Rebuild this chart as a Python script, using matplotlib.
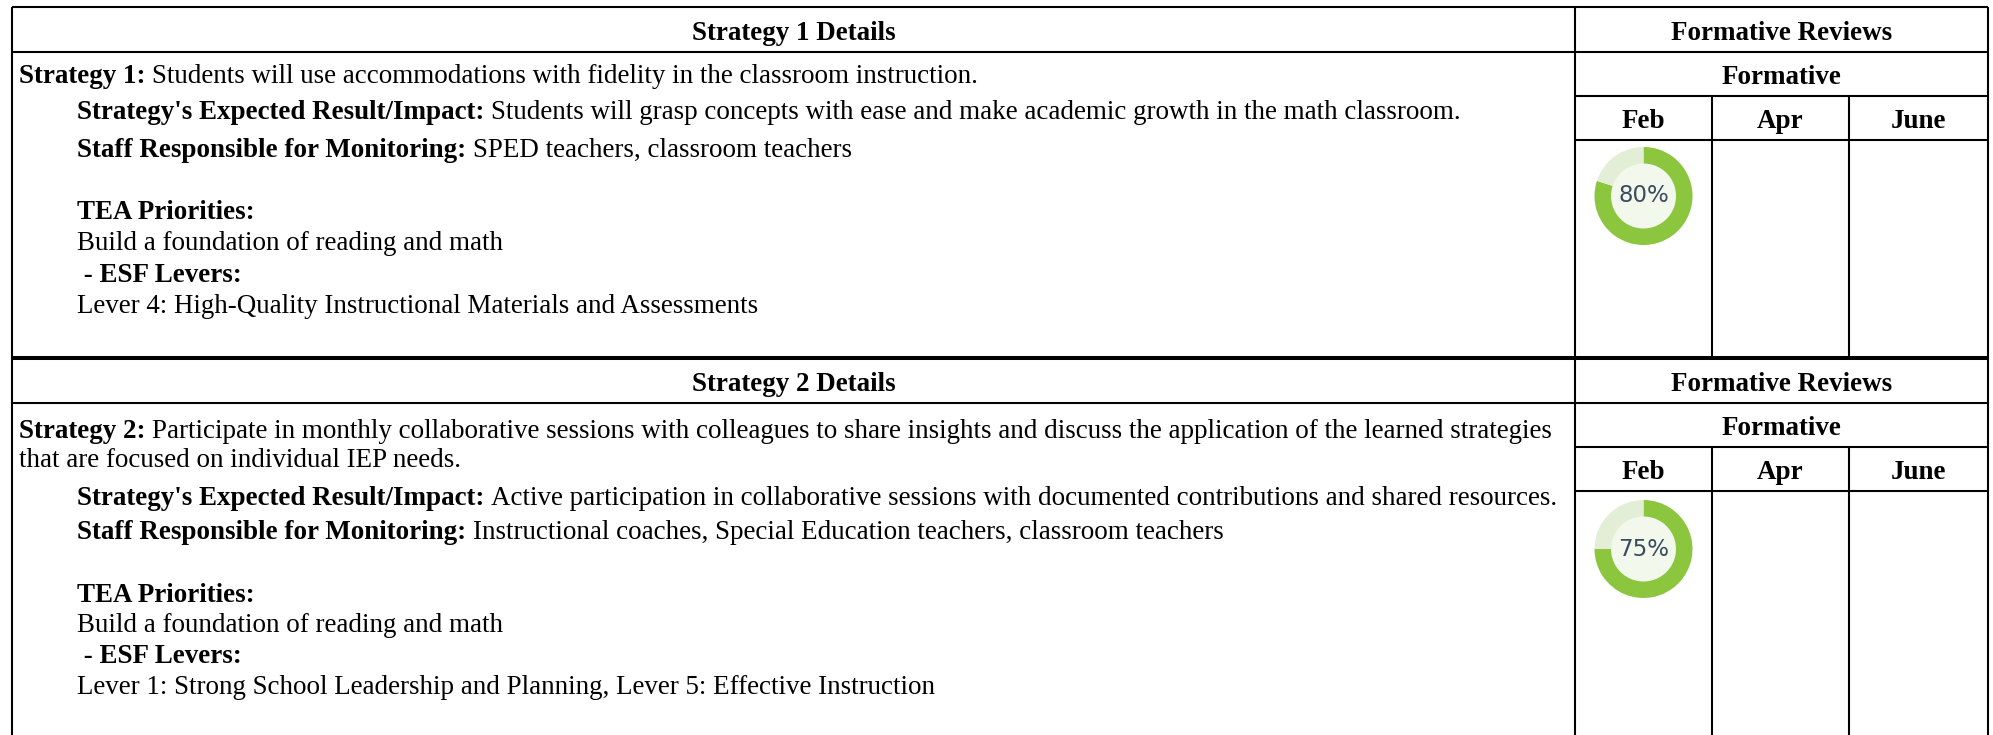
import matplotlib
matplotlib.use("Agg")
import matplotlib.pyplot as plt
from matplotlib.patches import Circle

W, H = 1993, 735

# table contents
months = ["Feb", "Apr", "June"]
feb_scores = [80, 75]
section_titles = ["Strategy 1 Details", "Strategy 2 Details"]
review_title = "Formative Reviews"
review_sub = "Formative"

strategy_lines = [
    [("Strategy 1:", "Students will use accommodations with fidelity in the classroom instruction.", 0),
     ("Strategy's Expected Result/Impact:", "Students will grasp concepts with ease and make academic growth in the math classroom.", 1),
     ("Staff Responsible for Monitoring:", "SPED teachers, classroom teachers", 1),
     ("TEA Priorities:", "", 1),
     ("", "Build a foundation of reading and math", 1),
     (" - ESF Levers:", "", 1),
     ("", "Lever 4: High-Quality Instructional Materials and Assessments", 1)],
    [("Strategy 2:", "Participate in monthly collaborative sessions with colleagues to share insights and discuss the application of the learned strategies", 0),
     ("", "that are focused on individual IEP needs.", 0),
     ("Strategy's Expected Result/Impact:", "Active participation in collaborative sessions with documented contributions and shared resources.", 1),
     ("Staff Responsible for Monitoring:", "Instructional coaches, Special Education teachers, classroom teachers", 1),
     ("TEA Priorities:", "", 1),
     ("", "Build a foundation of reading and math", 1),
     (" - ESF Levers:", "", 1),
     ("", "Lever 1: Strong School Leadership and Planning, Lever 5: Effective Instruction", 1)],
]

# layout (pixels, baselines)
line_y = [[83, 119, 157, 219, 250, 282, 313],
          [438, 467, 505, 539, 602, 632, 663, 694]]
sec_top = [7, 358]
left_x, split_x, right_x = 12, 1575, 1988
col_x = [1575, 1712, 1849, 1988]
indent = [19, 77]

green = "#8cc63f"
light = "#e2efd6"
inner = "#f2f8ec"

plt.rcParams['font.family'] = ['Liberation Serif', 'DejaVu Serif']
fs = 19.45

fig = plt.figure(figsize=(W / 100, H / 100), dpi=100)
ax = fig.add_axes([0, 0, 1, 1])
ax.set_xlim(0, W)
ax.set_ylim(H, 0)
ax.axis("off")

lw = 1.5
ax.vlines([left_x, split_x, right_x], sec_top[0], H, color="black", lw=lw)
ax.hlines(sec_top[0], left_x, right_x, color="black", lw=lw)

for s in range(2):
    top = sec_top[s]
    if s > 0:
        ax.hlines(top, left_x, right_x, color="black", lw=2.9)
    ax.hlines(top + 45, left_x, right_x, color="black", lw=lw)
    ax.hlines([top + 89, top + 133], split_x, right_x, color="black", lw=lw)
    bottom = sec_top[1] if s == 0 else H
    ax.vlines(col_x[1:3], top + 89, bottom, color="black", lw=lw)

    # header texts
    ax.text((left_x + split_x) / 2, top + 33, section_titles[s], ha="center", va="baseline",
            fontsize=fs, fontweight="bold")
    ax.text((split_x + right_x) / 2, top + 33, review_title, ha="center", va="baseline",
            fontsize=fs, fontweight="bold")
    ax.text((split_x + right_x) / 2, top + 77, review_sub, ha="center", va="baseline",
            fontsize=fs, fontweight="bold")
    for i, m in enumerate(months):
        ax.text((col_x[i] + col_x[i + 1]) / 2, top + 121, m, ha="center", va="baseline",
                fontsize=fs, fontweight="bold")

    # body
    for (label, body, ind), y in zip(strategy_lines[s], line_y[s]):
        x = indent[ind]
        if label:
            t = ax.text(x, y, label, ha="left", va="baseline", fontsize=fs, fontweight="bold")
            if body:
                ax.annotate(body, xy=(1, 0), xycoords=t, xytext=(6.5, 0),
                            textcoords="offset pixels", ha="left", va="bottom", fontsize=fs)
        else:
            ax.text(x, y, body, ha="left", va="baseline", fontsize=fs)

    # donut for Feb
    cx = (col_x[0] + col_x[1]) / 2
    cy = top + 189 if s == 0 else top + 191
    r = 49
    dax = fig.add_axes([(cx - r) / W, 1 - (cy + r) / H, 2 * r / W, 2 * r / H])
    v = feb_scores[s]
    dax.pie([v, 100 - v], colors=[green, light], startangle=90, counterclock=False,
            wedgeprops=dict(width=16.5 / r, linewidth=0))
    dax.add_patch(Circle((0, 0), 1 - 16.5 / r, color=inner, zorder=0))
    dax.text(0, 0, f"{v}%", ha="center", va="center", fontsize=16.5, color="#3c4a5e",
             family="DejaVu Sans")
    dax.set_xlim(-1, 1)
    dax.set_ylim(-1, 1)
    dax.axis("off")

fig.savefig("out.png", dpi=100)
